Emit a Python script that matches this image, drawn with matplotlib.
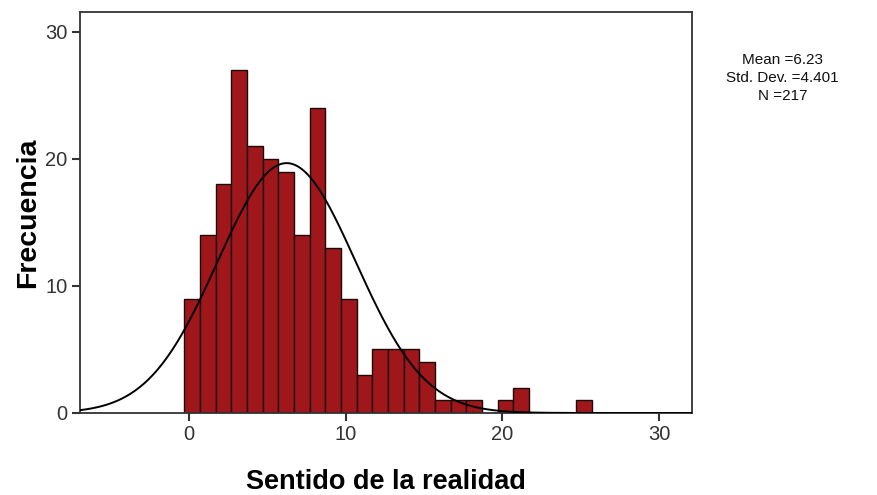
import numpy as np
import matplotlib
matplotlib.use('Agg')
from matplotlib import pyplot as plt

plt.rcParams['font.family'] = ['Liberation Sans', 'DejaVu Sans']

# histogram counts, one per bin of width 1 starting at -0.3
bin_start = -0.3
counts = [9, 14, 18, 27, 21, 20, 19, 14, 24, 13, 9, 3, 5, 5, 5, 4, 1, 1, 1, 0, 1, 2, 0, 0, 0, 1]
mean = 6.23
std = 4.401
n = 217

edges = bin_start + np.arange(len(counts) + 1)
f = plt.figure(figsize=(8.78, 4.95), dpi=100)
ax = f.add_axes([0.0911, 0.1657, 0.6970, 0.8101])

ax.bar(edges[:-1], counts, width=1.0, align='edge', color='#a0171b',
       edgecolor='#1a0a0a', linewidth=1.0, zorder=2)

xs = np.linspace(-7, 32.1, 400)
ys = n * 1.0 / (std * np.sqrt(2 * np.pi)) * np.exp(-0.5 * ((xs - mean) / std) ** 2)
ax.plot(xs, ys, color='black', linewidth=1.4, zorder=3)

ax.set_xlim(-6.96, 32.1)
ax.set_ylim(0, 31.57)
ax.set_xticks([0, 10, 20, 30])
ax.set_yticks([0, 10, 20, 30])
for s in ax.spines.values():
    s.set_color('#333333')
    s.set_linewidth(1.3)
ax.tick_params(direction='out', length=6, width=1.5, color='#333333',
               labelsize=14.5, labelcolor='#333333', pad=3)

ax.set_xlabel('Sentido de la realidad', fontsize=19.5, fontweight='bold', labelpad=18)
ax.set_ylabel('Frecuencia', fontsize=20.5, fontweight='bold', labelpad=3)

f.text(0.891, 0.843, 'Mean =6.23\nStd. Dev. =4.401\nN =217', ha='center', va='center',
       fontsize=11, color='#111111', linespacing=1.35)

plt.savefig('out.png', dpi=100)
